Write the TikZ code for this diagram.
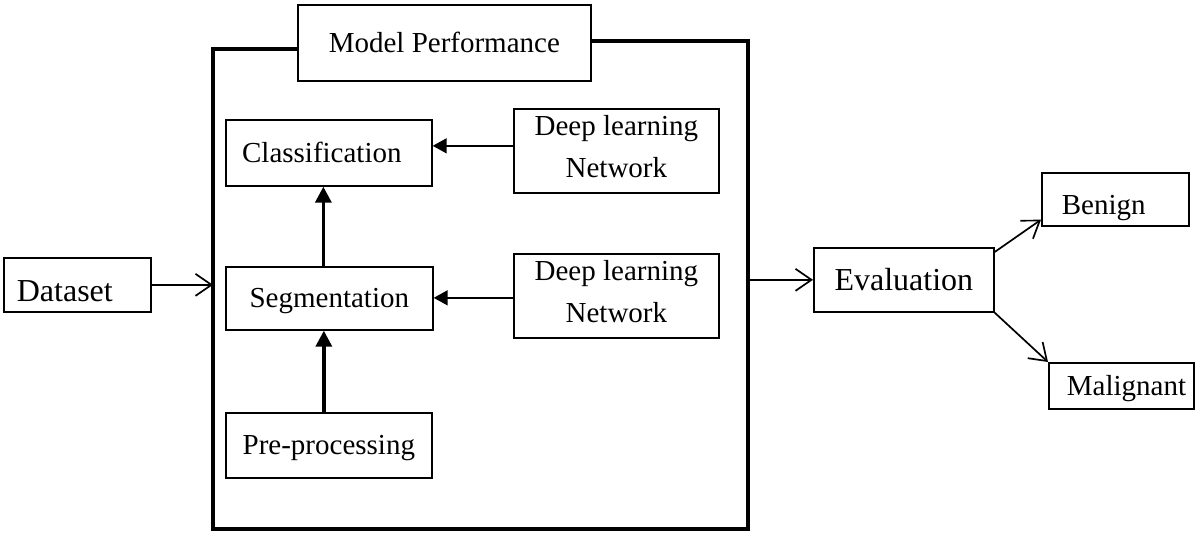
\documentclass[tikz,border=0pt]{standalone}
\usepackage{fontspec}
\setmainfont{Liberation Serif}
\usetikzlibrary{arrows.meta,calc}
\begin{document}
\begin{tikzpicture}[x=0.5pt,y=-0.5pt,
  box/.style={draw, line width=0.85pt, inner sep=0pt, anchor=north west, align=center, font=\fontsize{14.5}{21}\selectfont},
  bigfont/.style={font=\fontsize{16}{20}\selectfont},
  capc/.style={text height=#1, text depth=0pt},
  bigframe/.style={line width=2pt, line join=miter},
  barb/.style={line width=0.85pt, -{Straight Barb[length=8pt,width=11pt]}},
  sidearr/.style={line width=0.85pt, -{Triangle[length=7pt,width=7.5pt]}},
  uparr/.style={line width=1.7pt, -{Triangle[length=8pt,width=8pt]}}
]
\useasboundingbox (0,0) rectangle (1197,533);

\node[box, minimum width=146.5pt, minimum height=38pt, capc=9.6pt] (mp) at (297,4) {Model Performance};
\node[box, minimum width=103pt, minimum height=33pt, capc=9.6pt] (cls) at (225,119) {Classification\hspace*{7pt}};
\node[box, minimum width=102.5pt, minimum height=42pt, text depth=4pt] (dln1) at (513,108) {Deep learning\\Network};
\node[box, minimum width=103.5pt, minimum height=31.5pt, capc=9.6pt] (seg) at (225,266) {Segmentation};
\node[box, minimum width=102.5pt, minimum height=42pt, text depth=4pt] (dln2) at (513,253) {Deep learning\\Network};
\node[box, minimum width=103pt, minimum height=32.5pt, capc=9.6pt] (pre) at (225,412) {Pre-processing};
\node[box, bigfont, minimum height=27pt, capc=16.6pt] (data) at (3,257) {\makebox[73.5pt][l]{\hspace{6.5pt}Dataset}};
\node[box, bigfont, minimum width=90pt, minimum height=32pt, capc=10.6pt] (eval) at (813,247) {Evaluation};
\node[box, minimum height=26.5pt, capc=15.1pt] (ben) at (1041,172) {\makebox[73.5pt][l]{\hspace{10pt}Benign}};
\node[box, minimum height=23pt, capc=9.6pt] (mal) at (1048,362) {\makebox[72.5pt][l]{\hspace{9pt}Malignant}};

\coordinate (fTL) at (213,49);
\coordinate (fBL) at (213,529);
\coordinate (fBR) at (748,529);
\coordinate (fTR) at (748,41);
\draw[bigframe] (mp.west |- fTL) -- (fTL) -- (fBL) -- (fBR) -- (fTR) -- (mp.east |- fTR);

\draw[barb] (data.east) -- (data.east -| fTL);
\draw[barb] (fBR |- eval.west) -- (eval.west);
\draw[barb] ($(eval.north east)+(0,5)$) -- ($(ben.south west)+(0,-7)$);
\draw[barb] (eval.south east) -- (mal.north west);

\draw[sidearr] ($(dln1.west)+(0,-5)$) -- ($(dln1.west -| cls.east)+(0,-5)$);
\draw[sidearr] ($(dln2.west)+(0,2)$) -- ($(dln2.west -| seg.east)+(0,2)$);

\coordinate (sa) at ($(seg.north)+(-6,0)$);
\draw[uparr] (sa) -- (sa |- cls.south);
\coordinate (pa) at ($(pre.north)+(-5,0)$);
\draw[uparr] (pa) -- (pa |- seg.south);
\end{tikzpicture}
\end{document}
